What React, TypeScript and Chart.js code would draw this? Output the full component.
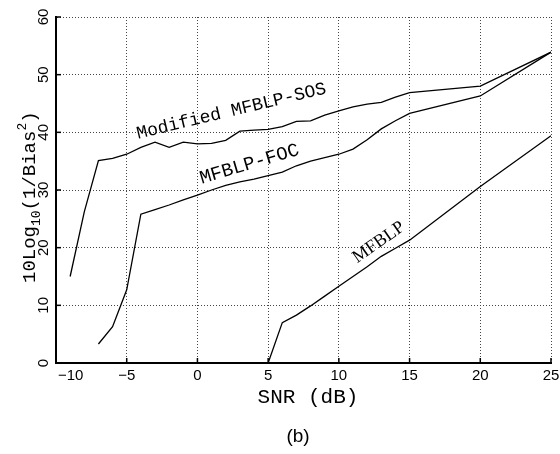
import { useEffect, useRef } from "react";
import { Chart, registerables } from "chart.js";

Chart.register(...registerables);

// SNR (dB) and 10log10(1/Bias^2) values per curve
const snrSOS = [-9, -8, -7, -6, -5, -4, -3, -2, -1, 0, 1, 2, 3, 4, 5, 6, 7, 8, 9, 10, 11, 12, 13, 14, 15, 20, 25];
const biasSOS = [15, 26.2, 35.1, 35.5, 36.2, 37.4, 38.3, 37.4, 38.3, 38.0, 38.1, 38.6, 40.2, 40.4, 40.5, 41.0, 41.9, 42.0, 43.0, 43.7, 44.4, 44.9, 45.2, 46.1, 46.9, 48.0, 53.9];

const snrFOC = [-7, -6, -5, -4, -3, -2, -1, 0, 1, 2, 3, 4, 5, 6, 7, 8, 9, 10, 11, 12, 13, 14, 15, 20, 25];
const biasFOC = [3.3, 6.3, 12.7, 25.8, 26.6, 27.4, 28.3, 29.1, 30.0, 30.8, 31.4, 31.9, 32.5, 33.1, 34.2, 35.0, 35.6, 36.2, 37.1, 38.7, 40.6, 42.0, 43.3, 46.3, 53.9];

const snrMFBLP = [5, 6, 7, 8, 9, 10, 11, 12, 13, 14, 15, 20, 25];
const biasMFBLP = [0, 7.0, 8.3, 9.9, 11.6, 13.3, 15.0, 16.7, 18.5, 19.9, 21.3, 30.6, 39.4];

const seriesNames = ["Modified MFBLP-SOS", "MFBLP-FOC", "MFBLP"];

const xTicks = [-10, -5, 0, 5, 10, 15, 20, 25];
const yTicks = [0, 10, 20, 30, 40, 50, 60];

const xTitle = "SNR (dB)";
const caption = "(b)";

function pts(xs: number[], ys: number[]) {
  return xs.map((x, i) => ({ x, y: ys[i] }));
}

export default function App() {
  const ref = useRef<HTMLCanvasElement>(null);

  useEffect(() => {
    const canvas = ref.current;
    if (!canvas) return;

    // label anchors (data units) and rotations for in-plot curve labels
    const curveLabelCfg = [
      { x: -4.2, y: 38.9, angle: -13.5, font: '18px "Liberation Mono"' },
      { x: 0.3, y: 31.1, angle: -16.5, font: '19px "Liberation Mono"' },
      { x: 11.3, y: 17.3, angle: -35, font: '18px "Liberation Serif"' },
    ];

    const textPlugin = {
      id: "textPlugin",
      afterDraw(chart: any) {
        const { ctx, chartArea } = chart;
        const xs = chart.scales.x;
        const ys = chart.scales.y;
        const { left, bottom } = chartArea;
        ctx.save();
        ctx.fillStyle = "#000";
        ctx.strokeStyle = "#000";

        // inward tick marks
        ctx.lineWidth = 1.5;
        xTicks.forEach((v) => {
          const px = xs.getPixelForValue(v);
          ctx.beginPath();
          ctx.moveTo(px, bottom);
          ctx.lineTo(px, bottom - 5);
          ctx.stroke();
        });
        yTicks.forEach((v) => {
          const py = ys.getPixelForValue(v);
          ctx.beginPath();
          ctx.moveTo(left, py);
          ctx.lineTo(left + 5, py);
          ctx.stroke();
        });

        // x tick labels
        ctx.font = '15px "Liberation Sans"';
        ctx.textAlign = "center";
        ctx.textBaseline = "middle";
        xTicks.forEach((v) => {
          const label = v < 0 ? "\u2212" + Math.abs(v) : String(v);
          const w = ctx.measureText(label).width;
          let px = xs.getPixelForValue(v);
          px = Math.max(px, left + 2 + w / 2);
          ctx.fillText(label, px, bottom + 13);
        });

        // y tick labels (rotated)
        yTicks.forEach((v) => {
          const py = ys.getPixelForValue(v);
          ctx.save();
          ctx.translate(left - 12, py);
          ctx.rotate(-Math.PI / 2);
          ctx.textAlign = "center";
          ctx.textBaseline = "middle";
          ctx.fillText(String(v), 0, 0);
          ctx.restore();
        });

        // curve labels
        seriesNames.forEach((name, i) => {
          const c = curveLabelCfg[i];
          ctx.save();
          ctx.translate(xs.getPixelForValue(c.x), ys.getPixelForValue(c.y));
          ctx.rotate((c.angle * Math.PI) / 180);
          ctx.font = c.font;
          ctx.textAlign = "left";
          ctx.textBaseline = "alphabetic";
          ctx.fillText(name, 0, 0);
          ctx.restore();
        });

        // y axis title: 10Log10(1/Bias^2)
        ctx.save();
        ctx.translate(35, 283);
        ctx.rotate(-Math.PI / 2);
        ctx.textAlign = "left";
        ctx.textBaseline = "alphabetic";
        let cx = 0;
        const big = '19px "Liberation Mono"';
        const small = '13px "Liberation Mono"';
        const parts: [string, string, number][] = [
          ["10Log", big, 0],
          ["10", small, 5],
          ["(1/Bias", big, 0],
          ["2", small, -9],
          [")", big, 0],
        ];
        parts.forEach(([t, f, dy]) => {
          ctx.font = f;
          ctx.fillText(t, cx, dy);
          cx += ctx.measureText(t).width;
        });
        ctx.restore();

        // x axis title
        ctx.font = '21px "Liberation Mono"';
        ctx.textAlign = "center";
        ctx.textBaseline = "alphabetic";
        ctx.fillText(xTitle, 308, 403);

        // caption
        ctx.font = '19px "Liberation Sans"';
        ctx.textBaseline = "middle";
        ctx.fillText(caption, 298, 437);

        ctx.restore();
      },
    };

    const lineStyle = {
      borderColor: "#000",
      borderWidth: 1.3,
      pointRadius: 0,
      tension: 0,
      fill: false,
    };

    const gridOpts = {
      color: "#444",
      lineWidth: 1,
      drawTicks: false,
    };

    const chart = new Chart(canvas, {
      type: "line",
      data: {
        datasets: [
          { label: seriesNames[0], data: pts(snrSOS, biasSOS), ...lineStyle },
          { label: seriesNames[1], data: pts(snrFOC, biasFOC), ...lineStyle },
          { label: seriesNames[2], data: pts(snrMFBLP, biasMFBLP), ...lineStyle },
        ],
      },
      options: {
        animation: false,
        responsive: false,
        layout: { padding: { top: 17, right: 9, left: 0, bottom: 0 } },
        plugins: { legend: { display: false }, tooltip: { enabled: false } },
        scales: {
          x: {
            type: "linear",
            min: -10,
            max: 25,
            ticks: { display: false, stepSize: 5 },
            grid: gridOpts,
            border: { display: true, color: "#000", width: 2, dash: [1, 2] },
            afterFit: (s: any) => {
              s.height = 91;
            },
          },
          y: {
            type: "linear",
            min: 0,
            max: 60,
            ticks: { display: false, stepSize: 10 },
            grid: gridOpts,
            border: { display: true, color: "#000", width: 2, dash: [1, 2] },
            afterFit: (s: any) => {
              s.width = 56;
            },
          },
        },
      },
      plugins: [textPlugin],
    } as any);

    return () => chart.destroy();
  }, []);

  return (
    <div style={{ position: "fixed", left: 0, top: 0, width: 560, height: 454, background: "#fff" }}>
      <canvas ref={ref} width={560} height={454} style={{ display: "block" }} />
    </div>
  );
}
